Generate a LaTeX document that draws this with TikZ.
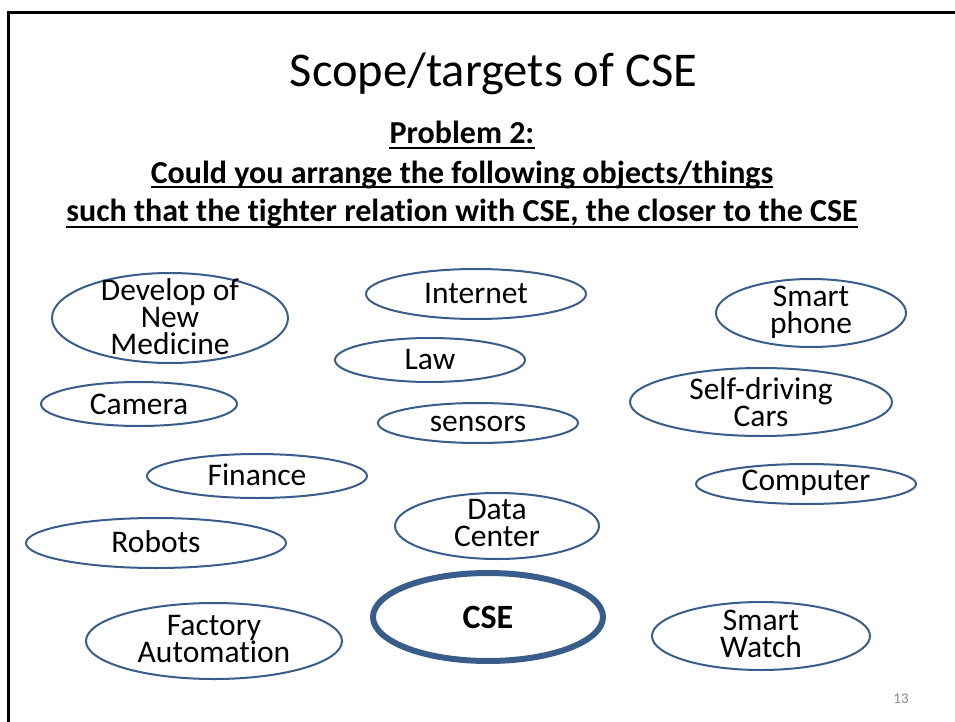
\documentclass[tikz,border=0pt]{standalone}
\usepackage{fontspec}
\setmainfont{Carlito}[Ligatures=NoCommon]
\definecolor{ellc}{HTML}{385D8A}
\definecolor{numc}{HTML}{898989}
\pgfdeclarelayer{bg}
\pgfsetlayers{bg,main}
\tikzset{
  lbl/.style={align=center, inner sep=0pt, font=\fontsize{31.5}{27}\selectfont},
  ell/.style={draw=ellc, line width=2pt},
  thickell/.style={draw=ellc, line width=6pt},
  headline/.style={anchor=base, inner sep=0pt, font=\fontsize{32}{36}\selectfont\bfseries},
  uline/.style={line width=2pt},
}
\begin{document}
\begin{tikzpicture}[x=1pt,y=-1pt]
\useasboundingbox (0,0) rectangle (955,722);
\draw[line width=2.8pt] (8.7,722) -- (8.7,12.5) -- (955,12.5);

\node[anchor=base, inner sep=0pt, font=\fontsize{48.5}{54}\selectfont] (title) at (493.5,87) {Scope/targets of CSE};
\node[headline] (h1) at (462,144) {Problem 2:};
\node[headline] (h2) at (462,183) {Could you arrange the following objects/things};
\node[headline] (h3) at (462,222) {such that the tighter relation with CSE, the closer to the CSE};
\foreach \h in {h1,h2,h3}
  \draw[uline] ([yshift=-4.5pt]\h.base west) -- ([yshift=-4.5pt]\h.base east);

\node[lbl] (dev) at (170,317) {Develop of\\New\\Medicine};
\node[lbl] (internet) at (476,294) {Internet};
\node[lbl] (phone) at (811,312) {Smart\\phone};
\node[lbl] (law) at (430,360) {Law};
\node[lbl] (camera) at (139,404) {Camera};
\node[lbl] (sensors) at (478,424) {sensors};
\node[lbl] (cars) at (761,402) {Self-driving\\Cars};
\node[lbl] (finance) at (257,475) {Finance};
\node[lbl] (computer) at (806,483) {Computer};
\node[lbl] (dc) at (497,523) {Data\\Center};
\node[lbl] (robots) at (156,542) {Robots};
\node[lbl, font=\fontsize{34}{38}\selectfont\bfseries] (cse) at (488,617) {CSE};
\node[lbl] (factory) at (214,639) {Factory\\Automation};
\node[lbl] (watch) at (761,634) {Smart\\Watch};

\node[anchor=base, inner sep=0pt, text=numc, font=\fontsize{15}{18}\selectfont] (num) at (901,703) {13};

\begin{pgfonlayer}{bg}
\draw[ell] (170,318) ellipse [x radius=118pt, y radius=45pt];
\draw[ell] (476,294) ellipse [x radius=110pt, y radius=25pt];
\draw[ell] (811,313) ellipse [x radius=95pt, y radius=34pt];
\draw[ell] (430,360) ellipse [x radius=95pt, y radius=22pt];
\draw[ell] (139,404) ellipse [x radius=98pt, y radius=22pt];
\draw[ell] (478,423) ellipse [x radius=100pt, y radius=20pt];
\draw[ell] (761,402) ellipse [x radius=131pt, y radius=34pt];
\draw[ell] (257,476) ellipse [x radius=110pt, y radius=22pt];
\draw[ell] (806,484) ellipse [x radius=110pt, y radius=20pt];
\draw[ell] (497,526) ellipse [x radius=102pt, y radius=33pt];
\draw[ell] (156,543) ellipse [x radius=130pt, y radius=25pt];
\draw[thickell] (488,617) ellipse [x radius=115pt, y radius=44pt];
\draw[ell] (214,641) ellipse [x radius=128pt, y radius=38pt];
\draw[ell] (761,636) ellipse [x radius=109pt, y radius=34pt];
\end{pgfonlayer}
\end{tikzpicture}
\end{document}
